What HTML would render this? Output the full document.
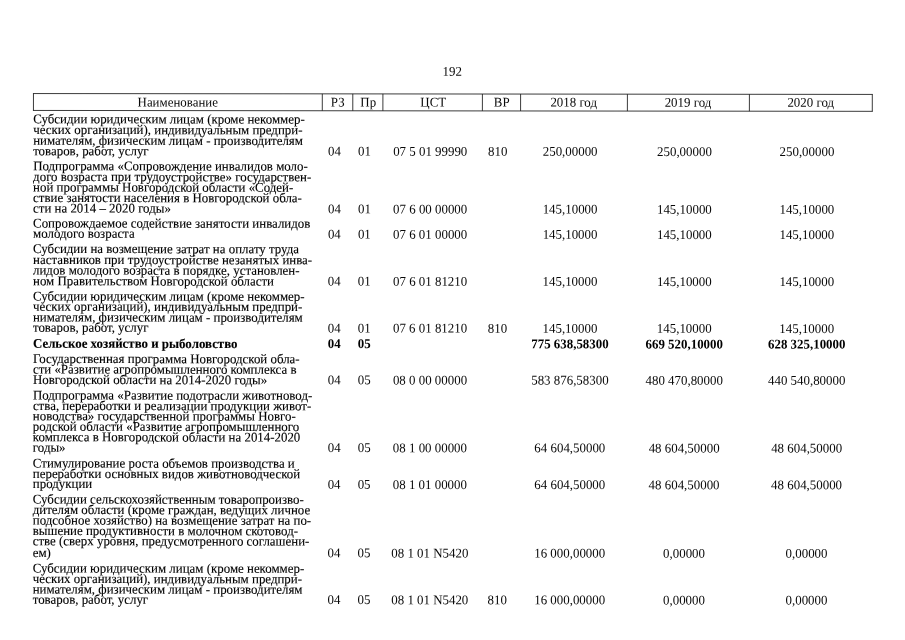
<!DOCTYPE html>
<html lang="ru"><head><meta charset="utf-8"><title>192</title>
<style>
html,body{margin:0;padding:0;background:#fff;}
body{width:905px;height:640px;position:relative;overflow:hidden;font-family:"Liberation Serif","Times New Roman",serif;font-size:13.3px;line-height:14px;color:#000;}
.t,.c{position:absolute;left:0;top:0;white-space:nowrap;transform-origin:0 0;}
.t{-webkit-text-stroke:0.12px #000;}
.c{color:#080808;}
.b{font-weight:bold;color:#000;}
.brd{position:absolute;left:0;top:0;}
#pg{position:absolute;left:0;top:0;width:905px;height:640px;transform-origin:33px 100px;transform:rotate(0.06deg);}
</style></head><body><div id="pg">
<div class="c" style="transform:translate(452.2px,64.2px) scaleX(0.97) translateX(-50%)">192</div>
<svg class="brd" width="905" height="640" viewBox="0 0 905 640"><g stroke="#181818" stroke-width="0.85" fill="none"><line x1="32.95" y1="93.55" x2="872.8" y2="93.55"/><line x1="32.95" y1="110.45" x2="872.8" y2="110.45"/><line x1="33.45" y1="93.55" x2="33.45" y2="110.45"/><line x1="322.3" y1="93.55" x2="322.3" y2="110.45"/><line x1="352.8" y1="93.55" x2="352.8" y2="110.45"/><line x1="382.9" y1="93.55" x2="382.9" y2="110.45"/><line x1="482.4" y1="93.55" x2="482.4" y2="110.45"/><line x1="520.6" y1="93.55" x2="520.6" y2="110.45"/><line x1="627.4" y1="93.55" x2="627.4" y2="110.45"/><line x1="749.4" y1="93.55" x2="749.4" y2="110.45"/><line x1="872.3" y1="93.55" x2="872.3" y2="110.45"/></g></svg>
<div class="c" style="transform:translate(177.75px,95.35px) scaleX(0.97) translateX(-50%)">Наименование</div>
<div class="c" style="transform:translate(337.75px,95.23px) scaleX(0.97) translateX(-50%)">РЗ</div>
<div class="c" style="transform:translate(368.25px,95.21px) scaleX(0.97) translateX(-50%)">Пр</div>
<div class="c" style="transform:translate(433.25px,95.16px) scaleX(0.97) translateX(-50%)">ЦСТ</div>
<div class="c" style="transform:translate(501.7px,95.11px) scaleX(0.97) translateX(-50%)">ВР</div>
<div class="c" style="transform:translate(573.7px,95.05px) scaleX(0.97) translateX(-50%)">2018 год</div>
<div class="c" style="transform:translate(688.0px,94.97px) scaleX(0.97) translateX(-50%)">2019 год</div>
<div class="c" style="transform:translate(810.75px,94.88px) scaleX(0.97) translateX(-50%)">2020 год</div>
<div class="t" style="transform:translate(33.2px,112.25px) scaleX(0.97)">Субсидии юридическим лицам (кроме некоммер-</div>
<div class="t" style="transform:translate(33.2px,123.0px) scaleX(0.97)">ческих организаций), индивидуальным предпри-</div>
<div class="t" style="transform:translate(33.2px,133.75px) scaleX(0.97)">нимателям, физическим лицам - производителям</div>
<div class="t" style="transform:translate(33.2px,144.25px) scaleX(0.97)">товаров, работ, услуг</div>
<div class="c" style="transform:translate(334.5px,144.25px) scaleX(0.97) translateX(-50%)">04</div>
<div class="c" style="transform:translate(364.5px,144.25px) scaleX(0.97) translateX(-50%)">01</div>
<div class="c" style="transform:translate(430.3px,144.25px) scaleX(0.97) translateX(-50%)">07 5 01 99990</div>
<div class="c" style="transform:translate(497.75px,144.25px) scaleX(0.97) translateX(-50%)">810</div>
<div class="c" style="transform:translate(570.2px,144.25px) scaleX(0.97) translateX(-50%)">250,00000</div>
<div class="c" style="transform:translate(684.5px,144.25px) scaleX(0.97) translateX(-50%)">250,00000</div>
<div class="c" style="transform:translate(807.0px,144.25px) scaleX(0.97) translateX(-50%)">250,00000</div>
<div class="t" style="transform:translate(33.2px,159.25px) scaleX(0.97)">Подпрограмма «Сопровождение инвалидов моло-</div>
<div class="t" style="transform:translate(33.2px,170.0px) scaleX(0.97)">дого возраста при трудоустройстве» государствен-</div>
<div class="t" style="transform:translate(33.2px,180.5px) scaleX(0.97)">ной программы Новгородской области «Содей-</div>
<div class="t" style="transform:translate(33.2px,191.0px) scaleX(0.97)">ствие занятости населения в Новгородской обла-</div>
<div class="t" style="transform:translate(33.2px,201.5px) scaleX(0.97)">сти на 2014 – 2020 годы»</div>
<div class="c" style="transform:translate(334.5px,202.0px) scaleX(0.97) translateX(-50%)">04</div>
<div class="c" style="transform:translate(364.5px,202.0px) scaleX(0.97) translateX(-50%)">01</div>
<div class="c" style="transform:translate(430.3px,202.0px) scaleX(0.97) translateX(-50%)">07 6 00 00000</div>
<div class="c" style="transform:translate(570.2px,202.0px) scaleX(0.97) translateX(-50%)">145,10000</div>
<div class="c" style="transform:translate(684.5px,202.0px) scaleX(0.97) translateX(-50%)">145,10000</div>
<div class="c" style="transform:translate(807.0px,202.0px) scaleX(0.97) translateX(-50%)">145,10000</div>
<div class="t" style="transform:translate(33.2px,216.5px) scaleX(0.97)">Сопровождаемое содействие занятости инвалидов</div>
<div class="t" style="transform:translate(33.2px,226.75px) scaleX(0.97)">молодого возраста</div>
<div class="c" style="transform:translate(334.5px,227.25px) scaleX(0.97) translateX(-50%)">04</div>
<div class="c" style="transform:translate(364.5px,227.25px) scaleX(0.97) translateX(-50%)">01</div>
<div class="c" style="transform:translate(430.3px,227.25px) scaleX(0.97) translateX(-50%)">07 6 01 00000</div>
<div class="c" style="transform:translate(570.2px,227.25px) scaleX(0.97) translateX(-50%)">145,10000</div>
<div class="c" style="transform:translate(684.5px,227.25px) scaleX(0.97) translateX(-50%)">145,10000</div>
<div class="c" style="transform:translate(807.0px,227.25px) scaleX(0.97) translateX(-50%)">145,10000</div>
<div class="t" style="transform:translate(33.2px,242.0px) scaleX(0.97)">Субсидии на возмещение затрат на оплату труда</div>
<div class="t" style="transform:translate(33.2px,253.0px) scaleX(0.97)">наставников при трудоустройстве незанятых инва-</div>
<div class="t" style="transform:translate(33.2px,263.5px) scaleX(0.97)">лидов молодого возраста в порядке, установлен-</div>
<div class="t" style="transform:translate(33.2px,274.25px) scaleX(0.97)">ном Правительством Новгородской области</div>
<div class="c" style="transform:translate(334.5px,274.25px) scaleX(0.97) translateX(-50%)">04</div>
<div class="c" style="transform:translate(364.5px,274.25px) scaleX(0.97) translateX(-50%)">01</div>
<div class="c" style="transform:translate(430.3px,274.25px) scaleX(0.97) translateX(-50%)">07 6 01 81210</div>
<div class="c" style="transform:translate(570.2px,274.25px) scaleX(0.97) translateX(-50%)">145,10000</div>
<div class="c" style="transform:translate(684.5px,274.25px) scaleX(0.97) translateX(-50%)">145,10000</div>
<div class="c" style="transform:translate(807.0px,274.25px) scaleX(0.97) translateX(-50%)">145,10000</div>
<div class="t" style="transform:translate(33.2px,289.5px) scaleX(0.97)">Субсидии юридическим лицам (кроме некоммер-</div>
<div class="t" style="transform:translate(33.2px,299.75px) scaleX(0.97)">ческих организаций), индивидуальным предпри-</div>
<div class="t" style="transform:translate(33.2px,310.5px) scaleX(0.97)">нимателям, физическим лицам - производителям</div>
<div class="t" style="transform:translate(33.2px,320.75px) scaleX(0.97)">товаров, работ, услуг</div>
<div class="c" style="transform:translate(334.5px,321.15px) scaleX(0.97) translateX(-50%)">04</div>
<div class="c" style="transform:translate(364.5px,321.15px) scaleX(0.97) translateX(-50%)">01</div>
<div class="c" style="transform:translate(430.3px,321.15px) scaleX(0.97) translateX(-50%)">07 6 01 81210</div>
<div class="c" style="transform:translate(497.75px,321.15px) scaleX(0.97) translateX(-50%)">810</div>
<div class="c" style="transform:translate(570.2px,321.15px) scaleX(0.97) translateX(-50%)">145,10000</div>
<div class="c" style="transform:translate(684.5px,321.15px) scaleX(0.97) translateX(-50%)">145,10000</div>
<div class="c" style="transform:translate(807.0px,321.15px) scaleX(0.97) translateX(-50%)">145,10000</div>
<div class="t b" style="transform:translate(33.2px,336.75px) scaleX(0.97)">Сельское хозяйство и рыболовство</div>
<div class="c b" style="transform:translate(334.5px,336.75px) scaleX(0.97) translateX(-50%)">04</div>
<div class="c b" style="transform:translate(364.5px,336.75px) scaleX(0.97) translateX(-50%)">05</div>
<div class="c b" style="transform:translate(570.2px,336.75px) scaleX(0.97) translateX(-50%)">775 638,58300</div>
<div class="c b" style="transform:translate(684.5px,336.75px) scaleX(0.97) translateX(-50%)">669 520,10000</div>
<div class="c b" style="transform:translate(807.0px,336.75px) scaleX(0.97) translateX(-50%)">628 325,10000</div>
<div class="t" style="transform:translate(33.2px,352.0px) scaleX(0.97)">Государственная программа Новгородской обла-</div>
<div class="t" style="transform:translate(33.2px,362.5px) scaleX(0.97)">сти «Развитие агропромышленного комплекса в</div>
<div class="t" style="transform:translate(33.2px,373.0px) scaleX(0.97)">Новгородской области на 2014-2020 годы»</div>
<div class="c" style="transform:translate(334.5px,373.0px) scaleX(0.97) translateX(-50%)">04</div>
<div class="c" style="transform:translate(364.5px,373.0px) scaleX(0.97) translateX(-50%)">05</div>
<div class="c" style="transform:translate(430.3px,373.0px) scaleX(0.97) translateX(-50%)">08 0 00 00000</div>
<div class="c" style="transform:translate(570.2px,373.0px) scaleX(0.97) translateX(-50%)">583 876,58300</div>
<div class="c" style="transform:translate(684.5px,373.0px) scaleX(0.97) translateX(-50%)">480 470,80000</div>
<div class="c" style="transform:translate(807.0px,373.0px) scaleX(0.97) translateX(-50%)">440 540,80000</div>
<div class="t" style="transform:translate(33.2px,388.5px) scaleX(0.97)">Подпрограмма «Развитие подотрасли животновод-</div>
<div class="t" style="transform:translate(33.2px,399.0px) scaleX(0.97)">ства, переработки и реализации продукции живот-</div>
<div class="t" style="transform:translate(33.2px,409.25px) scaleX(0.97)">новодства» государственной программы Новго-</div>
<div class="t" style="transform:translate(33.2px,419.75px) scaleX(0.97)">родской области «Развитие агропромышленного</div>
<div class="t" style="transform:translate(33.2px,430.25px) scaleX(0.97)">комплекса в Новгородской области на 2014-2020</div>
<div class="t" style="transform:translate(33.2px,440.75px) scaleX(0.97)">годы»</div>
<div class="c" style="transform:translate(334.5px,440.75px) scaleX(0.97) translateX(-50%)">04</div>
<div class="c" style="transform:translate(364.5px,440.75px) scaleX(0.97) translateX(-50%)">05</div>
<div class="c" style="transform:translate(430.3px,440.75px) scaleX(0.97) translateX(-50%)">08 1 00 00000</div>
<div class="c" style="transform:translate(570.2px,440.75px) scaleX(0.97) translateX(-50%)">64 604,50000</div>
<div class="c" style="transform:translate(684.5px,440.75px) scaleX(0.97) translateX(-50%)">48 604,50000</div>
<div class="c" style="transform:translate(807.0px,440.75px) scaleX(0.97) translateX(-50%)">48 604,50000</div>
<div class="t" style="transform:translate(33.2px,456.5px) scaleX(0.97)">Стимулирование роста объемов производства и</div>
<div class="t" style="transform:translate(33.2px,467.0px) scaleX(0.97)">переработки основных видов животноводческой</div>
<div class="t" style="transform:translate(33.2px,477.0px) scaleX(0.97)">продукции</div>
<div class="c" style="transform:translate(334.5px,477.5px) scaleX(0.97) translateX(-50%)">04</div>
<div class="c" style="transform:translate(364.5px,477.5px) scaleX(0.97) translateX(-50%)">05</div>
<div class="c" style="transform:translate(430.3px,477.5px) scaleX(0.97) translateX(-50%)">08 1 01 00000</div>
<div class="c" style="transform:translate(570.2px,477.5px) scaleX(0.97) translateX(-50%)">64 604,50000</div>
<div class="c" style="transform:translate(684.5px,477.5px) scaleX(0.97) translateX(-50%)">48 604,50000</div>
<div class="c" style="transform:translate(807.0px,477.5px) scaleX(0.97) translateX(-50%)">48 604,50000</div>
<div class="t" style="transform:translate(33.2px,492.5px) scaleX(0.97)">Субсидии сельскохозяйственным товаропроизво-</div>
<div class="t" style="transform:translate(33.2px,503.0px) scaleX(0.97)">дителям области (кроме граждан, ведущих личное</div>
<div class="t" style="transform:translate(33.2px,513.5px) scaleX(0.97)">подсобное хозяйство) на возмещение затрат на по-</div>
<div class="t" style="transform:translate(33.2px,524.0px) scaleX(0.97)">вышение продуктивности в молочном скотовод-</div>
<div class="t" style="transform:translate(33.2px,534.25px) scaleX(0.97)">стве (сверх уровня, предусмотренного соглашени-</div>
<div class="t" style="transform:translate(33.2px,546.0px) scaleX(0.97)">ем)</div>
<div class="c" style="transform:translate(334.5px,546.0px) scaleX(0.97) translateX(-50%)">04</div>
<div class="c" style="transform:translate(364.5px,546.0px) scaleX(0.97) translateX(-50%)">05</div>
<div class="c" style="transform:translate(430.3px,546.0px) scaleX(0.97) translateX(-50%)">08 1 01 N5420</div>
<div class="c" style="transform:translate(570.2px,546.0px) scaleX(0.97) translateX(-50%)">16 000,00000</div>
<div class="c" style="transform:translate(684.5px,546.0px) scaleX(0.97) translateX(-50%)">0,00000</div>
<div class="c" style="transform:translate(807.0px,546.0px) scaleX(0.97) translateX(-50%)">0,00000</div>
<div class="t" style="transform:translate(33.2px,561.5px) scaleX(0.97)">Субсидии юридическим лицам (кроме некоммер-</div>
<div class="t" style="transform:translate(33.2px,572.0px) scaleX(0.97)">ческих организаций), индивидуальным предпри-</div>
<div class="t" style="transform:translate(33.2px,582.5px) scaleX(0.97)">нимателям, физическим лицам - производителям</div>
<div class="t" style="transform:translate(33.2px,592.75px) scaleX(0.97)">товаров, работ, услуг</div>
<div class="c" style="transform:translate(334.5px,592.75px) scaleX(0.97) translateX(-50%)">04</div>
<div class="c" style="transform:translate(364.5px,592.75px) scaleX(0.97) translateX(-50%)">05</div>
<div class="c" style="transform:translate(430.3px,592.75px) scaleX(0.97) translateX(-50%)">08 1 01 N5420</div>
<div class="c" style="transform:translate(497.75px,592.75px) scaleX(0.97) translateX(-50%)">810</div>
<div class="c" style="transform:translate(570.2px,592.75px) scaleX(0.97) translateX(-50%)">16 000,00000</div>
<div class="c" style="transform:translate(684.5px,592.75px) scaleX(0.97) translateX(-50%)">0,00000</div>
<div class="c" style="transform:translate(807.0px,592.75px) scaleX(0.97) translateX(-50%)">0,00000</div>
</div></body></html>
